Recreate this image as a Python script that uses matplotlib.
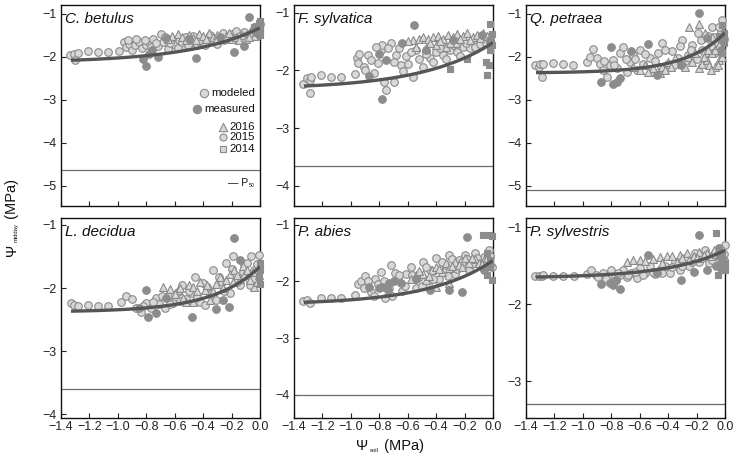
import numpy as np
import matplotlib
matplotlib.use("Agg")
import matplotlib.pyplot as plt

plt.rcParams['font.family'] = ['Liberation Sans', 'DejaVu Sans']

species = ['C. betulus', 'F. sylvatica', 'Q. petraea', 'L. decidua', 'P. abies', 'P. sylvestris']
p50 = [-4.63, -3.65, -5.10, -3.60, -4.00, -3.30]
y_lower = [-5.47, -4.35, -5.47, -4.06, -4.41, -3.48]
y_upper = [-0.80, -0.87, -0.80, -0.89, -0.88, -0.88]
y_ticks = [[-5, -4, -3, -2, -1], [-4, -3, -2, -1], [-5, -4, -3, -2, -1],
           [-4, -3, -2, -1], [-4, -3, -2, -1], [-3, -2, -1]]
x_ticks = [-1.4, -1.2, -1.0, -0.8, -0.6, -0.4, -0.2, 0.0]
x_tick_labels = ['\u22121.4', '\u22121.2', '\u22121.0', '\u22120.8', '\u22120.6', '\u22120.4', '\u22120.2', '0.0']

# fitted response per species: psi_midday = a + b * exp(c * psi_soil)
fit_a = [-2.14, -2.33, -2.38, -2.38, -2.41, -1.66]
fit_b = [0.81, 0.81, 0.93, 0.72, 0.78, 0.36]
fit_c = [2.0, 2.0, 3.5, 3.0, 2.2, 2.5]
fit_start = -1.33

# ---- C. betulus ----
cb_mod_2015 = [(-1.34, -1.97), (-1.31, -1.93), (-1.30, -2.08), (-1.28, -1.92), (-1.21, -1.88), (-1.14, -1.89),
               (-1.07, -1.89), (-0.99, -1.86), (-0.96, -1.66), (-0.94, -1.78), (-0.92, -1.70), (-0.90, -1.84),
               (-0.88, -1.72), (-0.85, -1.66), (-0.83, -1.80), (-0.80, -1.74), (-0.78, -1.66), (-0.75, -1.60),
               (-0.72, -1.75), (-0.70, -1.48), (-0.68, -1.66), (-0.65, -1.82), (-0.62, -1.58), (-0.60, -1.72),
               (-0.57, -1.62), (-0.54, -1.76), (-0.52, -1.55), (-0.49, -1.68), (-0.46, -1.60), (-0.44, -1.74),
               (-0.41, -1.56), (-0.38, -1.66), (-0.35, -1.50), (-0.32, -1.62), (-0.29, -1.55), (-0.26, -1.45),
               (-0.23, -1.58), (-0.20, -1.48), (-0.17, -1.40), (-0.14, -1.52), (-0.11, -1.42), (-0.08, -1.48),
               (-0.05, -1.38), (-0.03, -1.45), (-0.01, -1.35),
               (-0.93, -1.62), (-0.87, -1.58), (-0.81, -1.62), (-0.77, -1.78), (-0.73, -1.68), (-0.67, -1.55),
               (-0.63, -1.68), (-0.58, -1.80), (-0.55, -1.66), (-0.51, -1.72), (-0.47, -1.52), (-0.43, -1.64),
               (-0.39, -1.72), (-0.34, -1.60), (-0.30, -1.70), (-0.25, -1.62), (-0.21, -1.55), (-0.16, -1.62),
               (-0.12, -1.56), (-0.06, -1.55), (-0.02, -1.52)]
cb_mod_2016 = [(-0.62, -1.52), (-0.58, -1.48), (-0.55, -1.55), (-0.50, -1.50), (-0.47, -1.56), (-0.43, -1.48),
               (-0.40, -1.53), (-0.36, -1.46), (-0.33, -1.55), (-0.30, -1.49), (-0.27, -1.58), (-0.24, -1.52),
               (-0.20, -1.60), (-0.17, -1.55), (-0.13, -1.50), (-0.10, -1.58), (-0.07, -1.45), (-0.04, -1.52),
               (-0.02, -1.42), (-0.65, -1.58), (-0.52, -1.62), (-0.45, -1.62), (-0.38, -1.58), (-0.31, -1.62),
               (-0.22, -1.46), (-0.15, -1.62), (-0.08, -1.55)]
cb_obs_2015 = [(-0.80, -2.22), (-0.82, -2.05), (-0.78, -1.95), (-0.76, -1.85), (-0.72, -2.00), (-0.66, -1.57),
               (-0.50, -1.60), (-0.45, -2.02), (-0.28, -1.55), (-0.18, -1.90), (-0.11, -1.75), (-0.08, -1.08),
               (-0.03, -1.30), (-0.01, -1.45), (0.0, -1.25)]
cb_obs_2014 = [(-0.01, -1.22), (0.0, -1.30), (-0.02, -1.38), (0.0, -1.42), (-0.01, -1.48), (0.0, -1.35),
               (-0.03, -1.28), (0.0, -1.50), (-0.04, -1.32), (-0.02, -1.45), (0.0, -1.18), (-0.03, -1.40)]

# ---- F. sylvatica ----
fs_mod_2015 = [(-1.34, -2.23), (-1.31, -2.14), (-1.29, -2.17), (-1.29, -2.39), (-1.28, -2.12), (-1.21, -2.08),
               (-1.14, -2.12), (-1.07, -2.11), (-0.97, -2.06), (-0.96, -1.79), (-0.95, -1.88), (-0.94, -1.71),
               (-0.91, -1.94), (-0.90, -1.99), (-0.88, -1.73), (-0.81, -1.88), (-0.79, -1.65), (-0.78, -1.56),
               (-0.77, -2.21), (-0.75, -2.34), (-0.72, -1.53), (-0.70, -2.20), (-0.68, -1.73), (-0.65, -1.91),
               (-0.63, -2.02), (-0.61, -1.76), (-0.56, -2.11), (-0.54, -1.65), (-0.49, -1.94), (-0.44, -1.79),
               (-0.40, -1.68), (-0.35, -1.73), (-0.30, -1.65), (-0.25, -1.68), (-0.21, -1.59), (-0.16, -1.62),
               (-0.11, -1.50), (-0.07, -1.45), (-0.03, -1.42),
               (-0.86, -1.82), (-0.84, -2.05), (-0.82, -1.60), (-0.74, -1.62), (-0.70, -1.86), (-0.66, -1.62),
               (-0.60, -1.90), (-0.58, -1.68), (-0.52, -1.80), (-0.47, -1.72), (-0.42, -1.86), (-0.37, -1.62),
               (-0.33, -1.80), (-0.28, -1.57), (-0.23, -1.75), (-0.19, -1.52), (-0.13, -1.60), (-0.09, -1.55),
               (-0.05, -1.52), (-0.02, -1.50)]
fs_mod_2016 = [(-0.56, -1.47), (-0.52, -1.45), (-0.49, -1.42), (-0.46, -1.46), (-0.42, -1.43), (-0.39, -1.41),
               (-0.35, -1.45), (-0.32, -1.39), (-0.28, -1.43), (-0.25, -1.37), (-0.21, -1.41), (-0.18, -1.36),
               (-0.14, -1.42), (-0.11, -1.39), (-0.07, -1.36), (-0.04, -1.41), (-0.54, -1.59), (-0.47, -1.62),
               (-0.40, -1.56), (-0.33, -1.59), (-0.26, -1.53), (-0.60, -1.50), (-0.44, -1.52), (-0.37, -1.50),
               (-0.30, -1.52), (-0.23, -1.46), (-0.16, -1.48), (-0.09, -1.44), (-0.02, -1.45)]
fs_obs_2015 = [(-0.555, -1.21), (-0.78, -2.49), (-0.75, -1.82), (-0.80, -1.71), (-0.87, -2.10), (-0.64, -1.53),
               (-0.47, -1.65), (-0.28, -1.47), (-0.08, -1.39), (-0.02, -1.47)]
fs_obs_2014 = [(-0.02, -1.20), (-0.05, -1.85), (-0.04, -2.08), (-0.03, -1.91), (-0.18, -1.81), (-0.30, -1.97),
               (-0.02, -1.65), (-0.01, -1.56), (-0.01, -1.38)]

# ---- Q. petraea ----
qp_mod_2015 = [(-1.34, -2.19), (-1.31, -2.23), (-1.30, -2.17), (-1.29, -2.48), (-1.28, -2.16), (-1.21, -2.14),
               (-1.14, -2.16), (-1.07, -2.20), (-0.97, -2.12), (-0.95, -2.00), (-0.93, -1.83), (-0.90, -2.04),
               (-0.88, -2.16), (-0.86, -2.31), (-0.83, -2.48), (-0.81, -2.19), (-0.79, -2.08), (-0.76, -2.27),
               (-0.74, -1.92), (-0.72, -1.77), (-0.69, -2.35), (-0.67, -2.12), (-0.65, -1.96), (-0.62, -2.31),
               (-0.60, -1.84), (-0.58, -2.16), (-0.53, -2.04), (-0.51, -2.35), (-0.47, -1.92), (-0.44, -1.69),
               (-0.40, -2.16), (-0.37, -1.88), (-0.33, -2.04), (-0.30, -1.62), (-0.26, -1.96), (-0.23, -1.73),
               (-0.19, -1.46), (-0.16, -1.84), (-0.12, -1.53), (-0.09, -1.30), (-0.05, -1.69), (-0.03, -1.42),
               (-0.02, -1.15),
               (-0.85, -2.10), (-0.78, -2.20), (-0.70, -2.05), (-0.63, -2.05), (-0.56, -1.95), (-0.49, -2.10),
               (-0.45, -2.25), (-0.42, -1.85), (-0.36, -2.20), (-0.32, -1.75), (-0.28, -2.10), (-0.24, -1.85),
               (-0.20, -2.05), (-0.17, -1.62), (-0.14, -1.95), (-0.10, -1.75), (-0.08, -1.55), (-0.06, -1.90),
               (-0.04, -1.30), (-0.01, -1.60)]
qp_mod_2016 = [(-0.65, -2.23), (-0.60, -2.31), (-0.56, -2.19), (-0.51, -2.27), (-0.46, -2.39), (-0.44, -2.23),
               (-0.40, -2.12), (-0.35, -2.04), (-0.30, -2.16), (-0.26, -2.00), (-0.21, -1.92), (-0.18, -2.27),
               (-0.16, -2.16), (-0.13, -2.08), (-0.11, -2.19), (-0.09, -1.92), (-0.07, -1.84), (-0.04, -1.73),
               (-0.25, -1.30), (-0.18, -1.23), (-0.07, -2.23), (-0.04, -2.08),
               (-0.54, -2.35), (-0.42, -2.30), (-0.38, -2.25), (-0.28, -2.25), (-0.23, -2.12), (-0.15, -2.00),
               (-0.12, -1.85), (-0.10, -2.30), (-0.05, -2.20), (-0.02, -2.00), (-0.14, -1.45), (-0.09, -1.55)]
qp_obs_2015 = [(-0.87, -2.60), (-0.79, -2.63), (-0.76, -2.58), (-0.74, -2.50), (-0.80, -1.77), (-0.54, -1.70),
               (-0.66, -1.88), (-0.48, -2.43), (-0.185, -0.98), (-0.13, -1.57), (-0.31, -2.19), (-0.03, -1.84),
               (-0.02, -1.61)]
qp_obs_2014 = [(-0.02, -1.26), (-0.005, -1.45), (-0.04, -1.53), (-0.005, -1.69), (-0.02, -1.92), (-0.005, -1.60)]

# ---- L. decidua ----
ld_mod_2015 = [(-1.33, -2.24), (-1.31, -2.27), (-1.28, -2.29), (-1.21, -2.27), (-1.14, -2.29), (-1.07, -2.29),
               (-0.98, -2.22), (-0.94, -2.13), (-0.90, -2.18), (-0.87, -2.32), (-0.84, -2.38), (-0.80, -2.23),
               (-0.77, -2.31), (-0.73, -2.16), (-0.71, -2.25), (-0.67, -2.32), (-0.65, -2.13), (-0.61, -2.24),
               (-0.58, -2.06), (-0.55, -1.95), (-0.52, -2.18), (-0.48, -2.08), (-0.46, -1.82), (-0.42, -2.22),
               (-0.39, -2.27), (-0.37, -1.98), (-0.33, -1.71), (-0.31, -2.19), (-0.27, -1.90), (-0.24, -1.61),
               (-0.21, -2.08), (-0.19, -1.50), (-0.18, -1.79), (-0.14, -1.95), (-0.11, -1.63), (-0.08, -1.85),
               (-0.06, -1.50), (-0.04, -1.71), (-0.01, -1.48),
               (-0.82, -2.28), (-0.75, -2.22), (-0.69, -2.12), (-0.63, -2.25), (-0.56, -2.20), (-0.50, -2.05),
               (-0.44, -2.15), (-0.40, -1.92), (-0.35, -2.10), (-0.29, -1.82), (-0.25, -2.05), (-0.20, -1.70),
               (-0.16, -1.90), (-0.12, -1.75), (-0.09, -1.60), (-0.05, -1.85), (-0.02, -1.62), (-0.07, -1.95)]
ld_mod_2016 = [(-0.68, -1.98), (-0.63, -2.01), (-0.58, -2.03), (-0.54, -2.16), (-0.50, -1.95), (-0.47, -1.98),
               (-0.42, -1.90), (-0.39, -2.03), (-0.35, -2.19), (-0.31, -1.93), (-0.28, -1.82), (-0.24, -1.87),
               (-0.21, -1.77), (-0.18, -1.71), (-0.14, -1.85), (-0.11, -1.79), (-0.07, -1.87), (-0.04, -1.98),
               (-0.01, -1.79), (-0.47, -2.22), (-0.52, -2.22),
               (-0.60, -2.10), (-0.56, -2.00), (-0.44, -2.05), (-0.37, -1.95), (-0.33, -2.05), (-0.26, -2.00),
               (-0.19, -1.90), (-0.16, -1.80), (-0.12, -1.65), (-0.09, -1.72), (-0.05, -1.75), (-0.02, -1.90)]
ld_obs_2015 = [(-0.80, -2.03), (-0.85, -2.32), (-0.79, -2.46), (-0.73, -2.40), (-0.66, -2.16), (-0.48, -2.46),
               (-0.31, -2.34), (-0.22, -2.30), (-0.26, -2.19), (-0.18, -1.20), (-0.14, -1.55)]
ld_obs_2014 = [(0.0, -1.93), (-0.01, -1.82), (0.0, -1.72), (0.0, -1.61)]

# ---- P. abies ----
pa_mod_2015 = [(-1.335, -2.34), (-1.31, -2.32), (-1.29, -2.38), (-1.21, -2.30), (-1.14, -2.30), (-1.07, -2.30),
               (-0.97, -2.24), (-0.95, -2.05), (-0.93, -1.99), (-0.91, -2.12), (-0.90, -1.91), (-0.86, -2.18),
               (-0.83, -1.96), (-0.81, -2.04), (-0.79, -1.83), (-0.76, -2.30), (-0.73, -2.12), (-0.72, -1.71),
               (-0.69, -1.85), (-0.67, -1.96), (-0.64, -2.17), (-0.61, -1.86), (-0.58, -1.74), (-0.54, -2.12),
               (-0.52, -1.92), (-0.49, -1.65), (-0.46, -2.04), (-0.44, -1.80), (-0.40, -1.59), (-0.38, -1.95),
               (-0.34, -1.71), (-0.31, -1.53), (-0.27, -1.86), (-0.24, -1.62), (-0.20, -1.53), (-0.17, -1.80),
               (-0.13, -1.50), (-0.10, -1.65), (-0.06, -1.56), (-0.03, -1.44), (-0.005, -1.74),
               (-0.88, -2.00), (-0.84, -2.25), (-0.77, -2.00), (-0.71, -2.25), (-0.66, -1.88), (-0.62, -2.08),
               (-0.57, -1.88), (-0.50, -2.08), (-0.47, -1.75), (-0.42, -1.95), (-0.36, -1.65), (-0.32, -1.90),
               (-0.29, -1.60), (-0.25, -1.78), (-0.22, -1.65), (-0.18, -1.60), (-0.15, -1.70), (-0.11, -1.58),
               (-0.08, -1.72), (-0.04, -1.62), (-0.02, -1.55)]
pa_mod_2016 = [(-0.58, -1.95), (-0.54, -1.89), (-0.49, -1.86), (-0.47, -1.98), (-0.43, -1.80), (-0.40, -1.74),
               (-0.36, -1.83), (-0.33, -1.68), (-0.31, -1.77), (-0.27, -1.65), (-0.24, -1.71), (-0.20, -1.59),
               (-0.17, -1.67), (-0.13, -1.61), (-0.10, -1.68), (-0.06, -1.62), (-0.02, -1.65), (-0.40, -2.09),
               (-0.31, -2.03), (-0.52, -1.82), (-0.45, -1.90), (-0.38, -1.78), (-0.29, -1.72), (-0.22, -1.75),
               (-0.15, -1.58), (-0.08, -1.70), (-0.04, -1.58)]
pa_obs_2015 = [(-0.87, -2.09), (-0.80, -2.12), (-0.78, -2.09), (-0.74, -2.15), (-0.73, -2.03), (-0.70, -2.00),
               (-0.65, -2.03), (-0.54, -1.95), (-0.44, -2.15), (-0.31, -2.15), (-0.22, -2.18), (-0.18, -1.21),
               (-0.06, -1.80)]
pa_obs_2014 = [(-0.07, -1.18), (-0.03, -1.18), (-0.005, -1.20), (-0.02, -1.74), (-0.04, -1.89), (-0.005, -1.98),
               (-0.02, -1.62), (-0.04, -1.50)]

# ---- P. sylvestris ----
ps_mod_2015 = [(-1.337, -1.63), (-1.31, -1.63), (-1.29, -1.64), (-1.28, -1.62), (-1.21, -1.63), (-1.14, -1.63),
               (-1.06, -1.64), (-0.97, -1.61), (-0.94, -1.56), (-0.91, -1.62), (-0.89, -1.65), (-0.86, -1.60),
               (-0.82, -1.64), (-0.80, -1.56), (-0.77, -1.68), (-0.74, -1.62), (-0.72, -1.56), (-0.69, -1.65),
               (-0.66, -1.60), (-0.62, -1.66), (-0.60, -1.53), (-0.56, -1.59), (-0.53, -1.51), (-0.49, -1.61),
               (-0.46, -1.56), (-0.42, -1.50), (-0.39, -1.59), (-0.35, -1.45), (-0.32, -1.56), (-0.28, -1.40),
               (-0.25, -1.51), (-0.21, -1.34), (-0.18, -1.45), (-0.14, -1.30), (-0.11, -1.47), (-0.07, -1.34),
               (-0.04, -1.27), (-0.01, -1.43), (0.0, -1.23),
               (-0.84, -1.67), (-0.75, -1.60), (-0.68, -1.62), (-0.63, -1.58), (-0.58, -1.62), (-0.51, -1.58),
               (-0.44, -1.60), (-0.37, -1.52), (-0.30, -1.50), (-0.23, -1.45), (-0.16, -1.40), (-0.12, -1.38),
               (-0.09, -1.42), (-0.05, -1.36), (-0.03, -1.30), (-0.01, -1.35)]
ps_mod_2016 = [(-0.69, -1.45), (-0.65, -1.43), (-0.60, -1.42), (-0.56, -1.44), (-0.51, -1.41), (-0.46, -1.39),
               (-0.41, -1.37), (-0.37, -1.38), (-0.32, -1.36), (-0.27, -1.34), (-0.22, -1.37), (-0.18, -1.32),
               (-0.13, -1.34), (-0.08, -1.30), (-0.04, -1.33), (-0.02, -1.38), (-0.44, -1.47), (-0.34, -1.45),
               (-0.25, -1.43), (-0.30, -1.40), (-0.20, -1.40), (-0.15, -1.36), (-0.10, -1.38), (-0.06, -1.35),
               (-0.03, -1.40)]
ps_obs_2015 = [(-0.87, -1.74), (-0.81, -1.73), (-0.79, -1.75), (-0.74, -1.80), (-0.77, -1.69), (-0.54, -1.36),
               (-0.48, -1.60), (-0.31, -1.69), (-0.22, -1.58), (-0.18, -1.10), (-0.13, -1.56), (-0.06, -1.51),
               (-0.03, -1.47), (-0.02, -1.40)]
ps_obs_2014 = [(-0.06, -1.07), (-0.04, -1.27), (-0.02, -1.32), (-0.05, -1.62), (-0.03, -1.56), (-0.02, -1.52),
               (0.0, -1.47), (-0.04, -1.38), (0.0, -1.55)]

modeled_2015 = [cb_mod_2015, fs_mod_2015, qp_mod_2015, ld_mod_2015, pa_mod_2015, ps_mod_2015]
modeled_2016 = [cb_mod_2016, fs_mod_2016, qp_mod_2016, ld_mod_2016, pa_mod_2016, ps_mod_2016]
measured_2015 = [cb_obs_2015, fs_obs_2015, qp_obs_2015, ld_obs_2015, pa_obs_2015, ps_obs_2015]
measured_2014 = [cb_obs_2014, fs_obs_2014, qp_obs_2014, ld_obs_2014, pa_obs_2014, ps_obs_2014]

light_fill = '#d8d8d8'
light_edge = '#8a8a8a'
dark_fill = '#8c8c8c'
curve_col = '#555555'
tick_col = '#222222'

W, H = 737, 463
fig = plt.figure(figsize=(W / 100, H / 100), dpi=100)

col_left = [61, 294, 526]
col_w = 199
row_top = [5, 218]
row_bottom = [206, 418]


def place(col, row):
    l = col_left[col] / W
    b = 1 - row_bottom[row] / H
    h = (row_bottom[row] - row_top[row]) / H
    return [l, b, col_w / W, h]


axes = []
for i, name in enumerate(species):
    row, col = divmod(i, 3)
    ax = fig.add_axes(place(col, row))
    axes.append(ax)

    def scat(points, marker, fc, ec, s):
        pts = np.array(points)
        ax.scatter(pts[:, 0], pts[:, 1], marker=marker, s=s, facecolor=fc,
                   edgecolor=ec, linewidth=0.8, clip_on=False, zorder=3)

    scat(modeled_2015[i], 'o', light_fill, light_edge, 30)
    scat(modeled_2016[i], '^', light_fill, light_edge, 32)
    scat(measured_2015[i], 'o', dark_fill, dark_fill, 30)
    scat(measured_2014[i], 's', dark_fill, dark_fill, 24)

    xs = np.linspace(fit_start, 0.0, 120)
    ax.plot(xs, fit_a[i] + fit_b[i] * np.exp(fit_c[i] * xs), color=curve_col,
            lw=2.4, solid_capstyle='butt', zorder=5)

    ax.axhline(p50[i], color='#6a6a6a', lw=0.9, zorder=2)

    ax.set_xlim(-1.4, 0.0)
    ax.set_ylim(y_lower[i], y_upper[i])
    ax.set_xticks(x_ticks)
    ax.set_yticks(y_ticks[i])
    ax.set_yticklabels(['\u2212%d' % abs(v) for v in y_ticks[i]])
    if row == 1:
        ax.set_xticklabels(x_tick_labels)
    else:
        ax.set_xticklabels([])
    ax.tick_params(direction='in', length=3.6, width=0.8, labelsize=9,
                   colors=tick_col, pad=2.5)
    ax.tick_params(axis='y', pad=3)
    for sp in ax.spines.values():
        sp.set_linewidth(1.0)
        sp.set_color('#111111')

    ax.text(0.018, 0.965, name, transform=ax.transAxes, ha='left', va='top',
            fontsize=11, style='italic', color='#111111')

# legend drawn inside the first panel
ax0 = axes[0]
leg_fs = 8.2
ax0.scatter([0.719], [0.561], transform=ax0.transAxes, marker='o', s=36,
            facecolor=light_fill, edgecolor=light_edge, linewidth=0.8, clip_on=False)
ax0.text(0.975, 0.561, 'modeled', transform=ax0.transAxes, ha='right', va='center',
         fontsize=leg_fs, color='#111111')
ax0.scatter([0.685], [0.481], transform=ax0.transAxes, marker='o', s=36,
            facecolor=dark_fill, edgecolor=dark_fill, linewidth=0.8, clip_on=False)
ax0.text(0.975, 0.481, 'measured', transform=ax0.transAxes, ha='right', va='center',
         fontsize=leg_fs, color='#111111')
for yy, mk, ss, lab in [(0.395, '^', 36, '2016'), (0.343, 'o', 26, '2015'), (0.284, 's', 18, '2014')]:
    ax0.scatter([0.8125], [yy], transform=ax0.transAxes, marker=mk, s=ss,
                facecolor=light_fill, edgecolor=light_edge, linewidth=0.8, clip_on=False)
    ax0.text(0.975, yy, lab, transform=ax0.transAxes, ha='right', va='center',
             fontsize=leg_fs, color='#111111')

p_txt = ax0.text(0.84, 0.10, '\u2014 P', transform=ax0.transAxes, ha='left', va='baseline',
                 fontsize=7.5, color='#111111')
ax0.annotate('50', xy=(1, 0), xycoords=p_txt, xytext=(0.6, 0), textcoords='offset points',
             ha='left', va='bottom', fontsize=3.8, color='#111111')

# axis titles with small subscripts
lab_fs = 10.5
sub_fs = 4.2
xl1 = fig.text(356 / W, 1 - 450 / H, '\u03a8', ha='left', va='baseline', fontsize=lab_fs, color='#111111')
xl2 = plt.annotate('soil', xy=(1, 0), xycoords=xl1, xytext=(1.5, 0.3), textcoords='offset points',
                   ha='left', va='bottom', fontsize=sub_fs, color='#111111', annotation_clip=False)
plt.annotate(' (MPa)', xy=(1, 0), xycoords=(xl2, xl1), xytext=(0.5, 0), textcoords='offset points',
             ha='left', va='bottom', fontsize=lab_fs, color='#111111', annotation_clip=False)

yl1 = fig.text(12 / W, 1 - 256 / H, '\u03a8', rotation=90, ha='center', va='bottom',
               fontsize=lab_fs, color='#111111')
yl2 = plt.annotate('midday', xy=(1, 1), xycoords=yl1, xytext=(-0.3, 1.2), textcoords='offset points',
                   rotation=90, ha='right', va='bottom', fontsize=sub_fs, color='#111111',
                   annotation_clip=False)
plt.annotate(' (MPa)', xy=(0.5, 1), xycoords=(yl1, yl2), xytext=(0, 0.5), textcoords='offset points',
             rotation=90, ha='center', va='bottom', fontsize=lab_fs, color='#111111',
             annotation_clip=False)

fig.savefig('out.png', dpi=100)
